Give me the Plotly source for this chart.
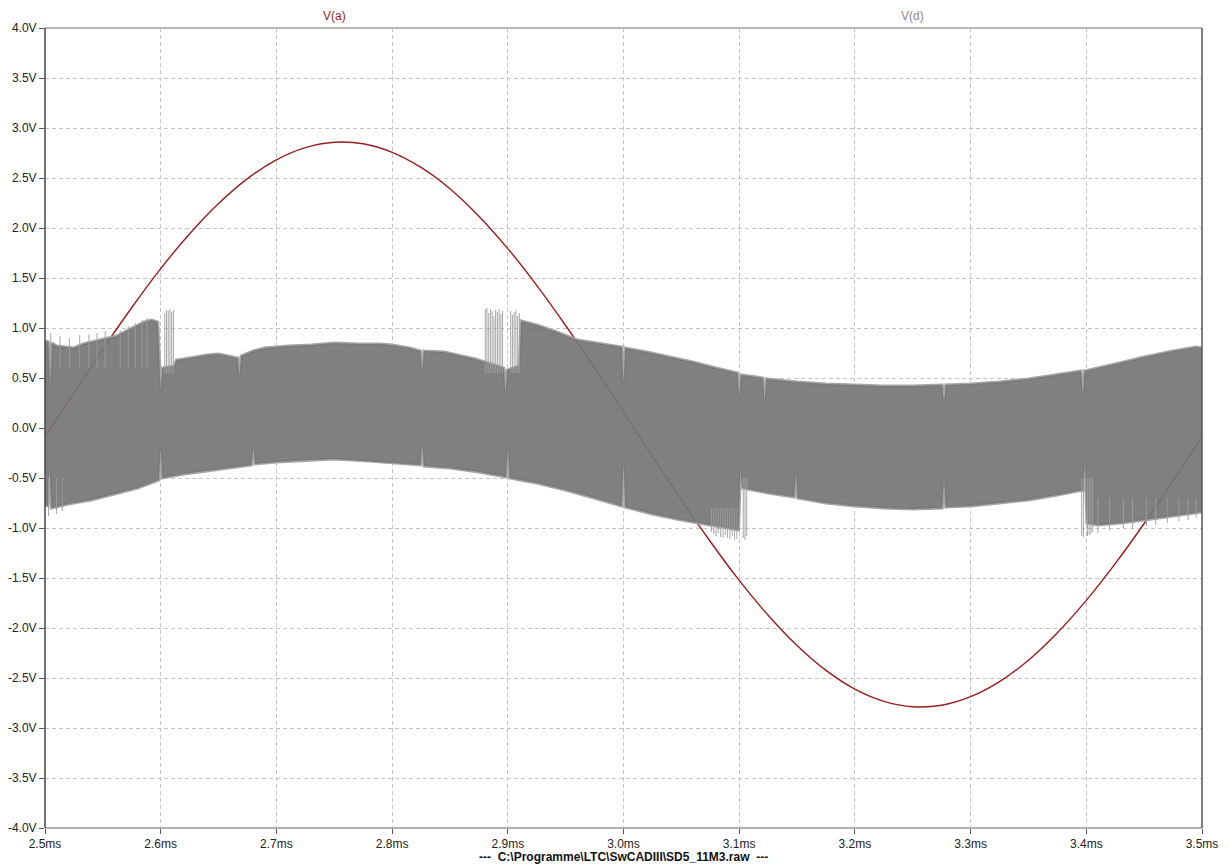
import plotly.graph_objects as go

# ---------------- data (time in ms, voltage in V) ----------------
t_a = [2.500 + 0.025 * k for k in range(41)]
v_a = [-0.089, 0.354, 0.789, 1.205, 1.594, 1.942, 2.245, 2.494, 2.681, 2.803,
       2.857, 2.842, 2.757, 2.606, 2.393, 2.118, 1.794, 1.427, 1.025, 0.599,
       0.159, -0.284, -0.719, -1.135, -1.524, -1.872, -2.175, -2.424, -2.611, -2.733,
       -2.787, -2.772, -2.687, -2.536, -2.323, -2.048, -1.724, -1.357, -0.955, -0.529,
       -0.089]

# V(d): envelope of the fast switching signal (upper / lower)
t_up = [2.500, 2.503, 2.5045, 2.506, 2.510, 2.518, 2.525, 2.533, 2.540, 2.548,
        2.555, 2.562, 2.570, 2.575, 2.580, 2.586, 2.592, 2.5975, 2.600, 2.6015,
        2.612, 2.6135, 2.625, 2.640, 2.650, 2.660, 2.6665, 2.668, 2.6695, 2.680,
        2.690, 2.710, 2.730, 2.750, 2.770, 2.790, 2.800, 2.815, 2.8245, 2.826,
        2.8275, 2.845, 2.861, 2.872, 2.880, 2.890, 2.8965, 2.898, 2.8995, 2.910,
        2.9115, 2.925, 2.940, 2.960, 2.980, 2.9985, 3.000, 3.0015, 3.020, 3.040,
        3.060, 3.080, 3.0985, 3.100, 3.1015, 3.115, 3.1205, 3.122, 3.1235, 3.150,
        3.175, 3.200, 3.225, 3.250, 3.2755, 3.277, 3.2785, 3.300, 3.325, 3.350,
        3.375, 3.3955, 3.397, 3.3985, 3.425, 3.450, 3.475, 3.495, 3.500]
v_up = [0.87, 0.86, 0.42, 0.85, 0.82, 0.81, 0.80, 0.84, 0.86, 0.88,
        0.90, 0.92, 0.97, 1.00, 1.03, 1.06, 1.08, 1.06, 0.37, 0.60,
        0.62, 0.68, 0.70, 0.73, 0.74, 0.72, 0.70, 0.52, 0.72, 0.77,
        0.80, 0.82, 0.83, 0.85, 0.84, 0.84, 0.83, 0.80, 0.77, 0.55,
        0.77, 0.76, 0.72, 0.69, 0.66, 0.62, 0.60, 0.35, 0.58, 0.62,
        1.07, 1.03, 0.97, 0.88, 0.84, 0.81, 0.45, 0.80, 0.76, 0.71,
        0.66, 0.60, 0.55, 0.30, 0.53, 0.51, 0.50, 0.27, 0.49, 0.46,
        0.44, 0.43, 0.42, 0.42, 0.43, 0.25, 0.43, 0.44, 0.46, 0.49,
        0.53, 0.57, 0.32, 0.57, 0.64, 0.71, 0.77, 0.81, 0.80]

t_lo = [2.500, 2.5025, 2.504, 2.5055, 2.520, 2.540, 2.560, 2.580, 2.5985, 2.600,
        2.6015, 2.620, 2.640, 2.660, 2.6785, 2.680, 2.6815, 2.700, 2.730, 2.750,
        2.780, 2.800, 2.8245, 2.826, 2.8275, 2.850, 2.875, 2.8985, 2.900, 2.9015,
        2.925, 2.950, 2.975, 2.9985, 3.000, 3.0015, 3.025, 3.050, 3.070, 3.090,
        3.0995, 3.101, 3.1025, 3.125, 3.1475, 3.149, 3.1505, 3.175, 3.200, 3.225,
        3.250, 3.2755, 3.277, 3.2785, 3.300, 3.325, 3.350, 3.375, 3.3975, 3.399,
        3.4005, 3.410, 3.430, 3.450, 3.475, 3.500]
v_lo = [-0.77, -0.78, -0.40, -0.80, -0.76, -0.72, -0.66, -0.60, -0.52, -0.20,
        -0.50, -0.46, -0.43, -0.40, -0.37, -0.20, -0.36, -0.34, -0.32, -0.31,
        -0.33, -0.35, -0.37, -0.15, -0.38, -0.40, -0.44, -0.49, -0.20, -0.50,
        -0.55, -0.62, -0.70, -0.78, -0.35, -0.79, -0.86, -0.92, -0.96, -1.00,
        -1.02, -0.42, -0.60, -0.65, -0.69, -0.45, -0.70, -0.75, -0.78, -0.80,
        -0.81, -0.80, -0.50, -0.79, -0.78, -0.75, -0.72, -0.67, -0.62, -0.31,
        -0.95, -0.97, -0.95, -0.92, -0.88, -0.84]

# isolated thin spikes of V(d) reaching beyond the dense band
spike_t = [2.505, 2.513, 2.521, 2.530, 2.538, 2.545, 2.552, 2.565, 2.572, 2.578, 2.584, 2.588,
           2.6035, 2.605, 2.6065, 2.608, 2.6095, 2.611,
           2.8805, 2.882, 2.8835, 2.885, 2.8865, 2.888, 2.8895, 2.891, 2.8925, 2.894,
           2.8955, 2.9025, 2.904, 2.9055, 2.907, 2.9085, 2.910,
           2.503, 2.510, 2.515,
           3.076, 3.078, 3.080, 3.082, 3.084, 3.086, 3.088, 3.090, 3.092, 3.094,
           3.096, 3.098, 3.1035, 3.105, 3.1065,
           3.396, 3.3975, 3.401, 3.4025, 3.404, 3.4055, 3.410, 3.420, 3.432, 3.440,
           3.452, 3.460, 3.470, 3.480, 3.488, 3.495]
spike_lo = [0.60, 0.60, 0.60, 0.60, 0.60, 0.60, 0.60, 0.60, 0.60, 0.60, 0.60, 0.60,
            0.55, 0.55, 0.55, 0.55, 0.55, 0.55,
            0.55, 0.55, 0.55, 0.55, 0.55, 0.55, 0.55, 0.55, 0.55, 0.55,
            0.55, 0.55, 0.55, 0.55, 0.55, 0.55, 0.55,
            -0.88, -0.86, -0.83,
            -1.04, -1.06, -1.08, -1.05, -1.09, -1.10, -1.07, -1.10, -1.11, -1.08,
            -1.12, -1.11, -1.10, -1.12, -1.08,
            -1.08, -1.09, -1.08, -1.07, -1.06, -1.04, -1.05, -1.02, -1.00, -1.01,
            -0.98, -0.97, -0.95, -0.93, -0.92, -0.90]
spike_hi = [0.95, 0.92, 0.90, 0.93, 0.94, 0.95, 0.97, 0.98, 1.02, 1.05, 1.08, 1.10,
            1.15, 1.18, 1.17, 1.19, 1.16, 1.18,
            1.19, 1.20, 1.15, 1.19, 1.17, 1.12, 1.18, 1.16, 1.19, 1.14,
            1.17, 1.17, 1.13, 1.16, 1.18, 1.12, 1.15,
            -0.50, -0.50, -0.50,
            -0.80, -0.80, -0.80, -0.80, -0.80, -0.80, -0.80, -0.80, -0.80, -0.80,
            -0.80, -0.80, -0.50, -0.50, -0.50,
            -0.50, -0.50, -0.50, -0.50, -0.50, -0.50, -0.70, -0.70, -0.70, -0.70,
            -0.70, -0.70, -0.70, -0.70, -0.70, -0.70]

x_ticks = [2.5, 2.6, 2.7, 2.8, 2.9, 3.0, 3.1, 3.2, 3.3, 3.4, 3.5]
x_labels = ["2.5ms", "2.6ms", "2.7ms", "2.8ms", "2.9ms", "3.0ms", "3.1ms",
            "3.2ms", "3.3ms", "3.4ms", "3.5ms"]
y_ticks = [4.0, 3.5, 3.0, 2.5, 2.0, 1.5, 1.0, 0.5, 0.0, -0.5, -1.0, -1.5,
           -2.0, -2.5, -3.0, -3.5, -4.0]
y_labels = ["4.0V", "3.5V", "3.0V", "2.5V", "2.0V", "1.5V", "1.0V", "0.5V", "0.0V",
            "-0.5V", "-1.0V", "-1.5V", "-2.0V", "-2.5V", "-3.0V", "-3.5V", "-4.0V"]

trace_names = ["V(a)", "V(d)"]
caption = "---  C:\\Programme\\LTC\\SwCADIII\\SD5_11M3.raw  ---"

RED = "#9b1c1c"
FONT = "Liberation Sans, Arial, Helvetica, sans-serif"

fig = go.Figure()

fig.add_trace(go.Scatter(x=t_a, y=v_a, mode="lines",
                         line=dict(color=RED, width=1.4, shape="spline", smoothing=1.0),
                         hoverinfo="skip", showlegend=False))

# soft fringe along the band edges (drawn under the band)
fx = t_up + [None] + t_lo
fy = v_up + [None] + v_lo
fig.add_trace(go.Scatter(x=fx, y=fy, mode="lines",
                         line=dict(color="#a6a6a6", width=3),
                         hoverinfo="skip", showlegend=False))

band_x = t_up + t_lo[::-1]
band_y = v_up + v_lo[::-1]
fig.add_trace(go.Scatter(x=band_x, y=band_y, mode="lines", fill="toself",
                         fillcolor="rgba(118,118,118,0.93)",
                         line=dict(width=0, color="rgba(0,0,0,0)"),
                         hoverinfo="skip", showlegend=False))

sx, sy = [], []
for t, lo, hi in zip(spike_t, spike_lo, spike_hi):
    sx += [t, t, None]
    sy += [lo, hi, None]
fig.add_trace(go.Scatter(x=sx, y=sy, mode="lines",
                         line=dict(color="#9c9c9c", width=0.9),
                         hoverinfo="skip", showlegend=False))

axis_common = dict(showline=False, zeroline=False, showgrid=True, automargin=False,
                   gridcolor="#c4c4c4", gridwidth=1, griddash="4px,3px",
                   ticks="outside", ticklen=5, tickcolor="#555", tickwidth=1,
                   tickfont=dict(family=FONT, size=12, color="#222"))

fig.update_xaxes(range=[2.5, 3.5], tickmode="array", tickvals=x_ticks,
                 ticktext=x_labels, **axis_common)
fig.update_yaxes(range=[-4, 4], tickmode="array", tickvals=y_ticks,
                 ticktext=y_labels, **axis_common)

shapes = [
    dict(type="line", xref="paper", yref="paper", x0=0, x1=1, y0=1, y1=1,
         line=dict(color="#b8b8b8", width=2), layer="above"),
    dict(type="line", xref="paper", yref="paper", x0=0, x1=1, y0=0, y1=0,
         line=dict(color="#9a9a9a", width=1.5), layer="above"),
    dict(type="line", xref="paper", yref="paper", x0=0, x1=0, y0=0, y1=1,
         line=dict(color="#444", width=1.5), layer="above"),
    dict(type="line", xref="paper", yref="paper", x0=1, x1=1, y0=0, y1=1,
         line=dict(color="#555", width=1.5), layer="above"),
]

annotations = [
    dict(text=trace_names[0], xref="paper", yref="paper", x=0.25, y=1, yshift=12,
         showarrow=False, font=dict(family=FONT, size=12, color=RED),
         xanchor="center", yanchor="middle"),
    dict(text=trace_names[1], xref="paper", yref="paper", x=0.75, y=1, yshift=12,
         showarrow=False, font=dict(family=FONT, size=12, color="#8a8a8a"),
         xanchor="center", yanchor="middle"),
    dict(text="<b>" + caption + "</b>", xref="paper", yref="paper", x=0.5, y=0,
         yshift=-29, showarrow=False, font=dict(family=FONT, size=12, color="#111"),
         xanchor="center", yanchor="middle"),
]

fig.update_layout(width=1229, height=865, autosize=False,
                  margin=dict(l=45, r=27, t=28, b=37, pad=0),
                  paper_bgcolor="white", plot_bgcolor="white",
                  shapes=shapes, annotations=annotations,
                  font=dict(family=FONT, size=12, color="#222"))

fig.write_html("out.html", config={"displayModeBar": False},
               post_script="document.body.style.margin='0';document.body.style.overflow='hidden';")
